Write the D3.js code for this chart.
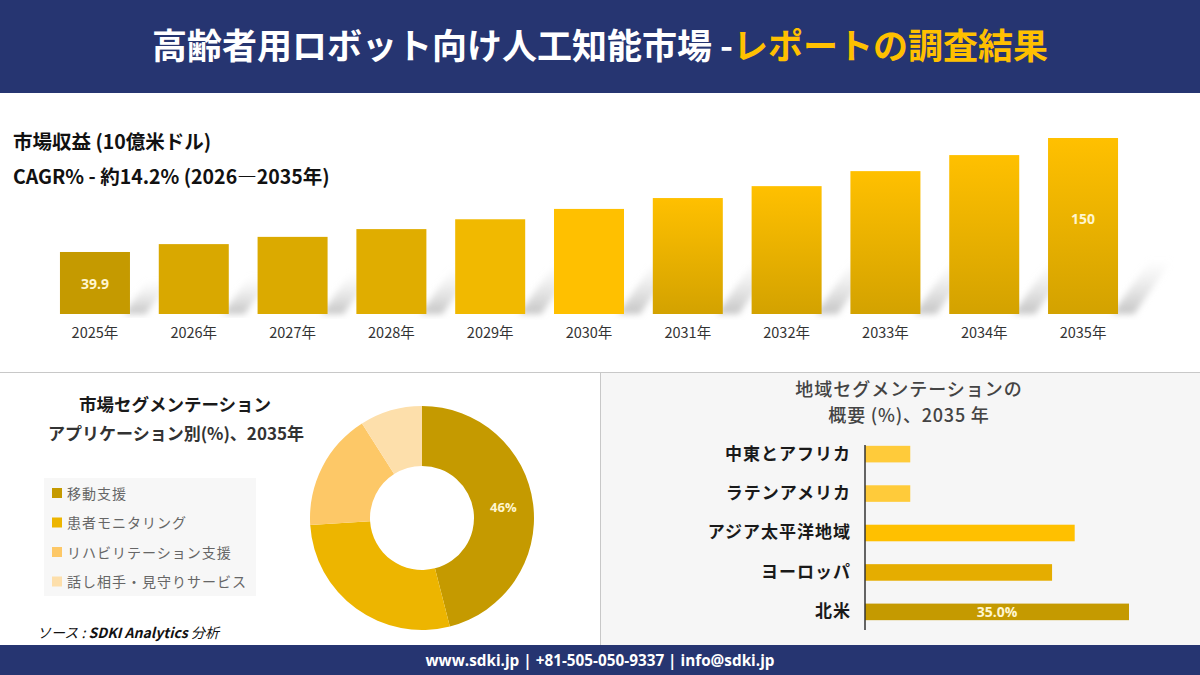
<!DOCTYPE html>
<html>
<head>
<meta charset="utf-8">
<script src="https://cdn.jsdelivr.net/npm/d3@7"></script>
<style>
  html, body { margin: 0; padding: 0; background: #fff; }
  svg { display: block; font-family: "Noto Sans CJK JP", "Noto Sans", sans-serif; }
</style>
</head>
<body>
<div id="chart"></div>
<script>
(function(){

    var width = 1200;
    var height = 675;

    // market revenue (billion USD)
    var years = ["2025年", "2026年", "2027年", "2028年", "2029年", "2030年", "2031年", "2032年", "2033年", "2034年", "2035年"];
    var revenue = [39.9, 47.5, 54.5, 62.0, 71.5, 81.5, 92.0, 103.5, 118.0, 133.5, 150];
    var barColors = ["#C59A00", "#D9A800", "#DBAA00", "#E0AD00", "#F1B900", "#FFC000", "grad", "grad", "grad", "grad", "grad"];
    var shownValues = {0: "39.9", 10: "150"};

    // application segmentation, 2035
    var apps = ["移動支援", "患者モニタリング", "リハビリテーション支援", "話し相手・見守りサービス"];
    var appShare = [46, 28, 17, 9];
    var appColors = ["#C59A00", "#EDB500", "#FDC867", "#FDDFAB"];

    // regional segmentation, 2035
    var regions = ["中東とアフリカ", "ラテンアメリカ", "アジア太平洋地域", "ヨーロッパ", "北米"];
    var regionShare = [6, 6, 27.8, 24.8, 35.0];
    var regionColors = ["#FFCB3A", "#FFCB3A", "#FFC000", "#E5AD00", "#C59A00"];

    var svg = d3.select("#chart")
        .append("svg")
            .attr("width", width)
            .attr("height", height);

    var defs = svg.append("defs");

    var g1 = defs.append("linearGradient")
        .attr("id", "barGrad")
        .attr("x1", 0).attr("y1", 0).attr("x2", 0).attr("y2", 1);
    g1.append("stop").attr("offset", "0%").attr("stop-color", "#FFC000");
    g1.append("stop").attr("offset", "100%").attr("stop-color", "#D3A200");

    var g2 = defs.append("linearGradient")
        .attr("id", "shadowGrad")
        .attr("x1", 0).attr("y1", 1).attr("x2", 0).attr("y2", 0);
    g2.append("stop").attr("offset", "0%").attr("stop-color", "#bdbdbd").attr("stop-opacity", 0.9);
    g2.append("stop").attr("offset", "100%").attr("stop-color", "#e0e0e0").attr("stop-opacity", 0);

    defs.append("filter")
        .attr("id", "blur")
        .append("feGaussianBlur")
        .attr("stdDeviation", 3);

    // backgrounds
    svg.append("rect")
        .attr("x", 0).attr("y", 0)
        .attr("width", width).attr("height", 93)
        .attr("fill", "#263571");

    svg.append("rect")
        .attr("x", 601).attr("y", 373)
        .attr("width", 599).attr("height", 272)
        .attr("fill", "#F6F6F6");

    svg.append("line")
        .attr("x1", 0).attr("x2", width)
        .attr("y1", 372.5).attr("y2", 372.5)
        .attr("stroke", "#c8c8c8");

    svg.append("line")
        .attr("x1", 600.5).attr("x2", 600.5)
        .attr("y1", 373).attr("y2", 645)
        .attr("stroke", "#c8c8c8");

    svg.append("rect")
        .attr("x", 0).attr("y", 645)
        .attr("width", width).attr("height", 30)
        .attr("fill", "#263571");

    // header
    var title = svg.append("text")
        .attr("x", 600)
        .attr("y", 59)
        .attr("text-anchor", "middle")
        .attr("xml:space", "preserve")
        .style("font-size", "35px")
        .style("font-weight", "bold");
    title.append("tspan").attr("fill", "#ffffff").text("高齢者用ロボット向け人工知能市場 -");
    title.append("tspan").attr("fill", "#FFC000").text("レポートの調査結果");

    svg.append("text")
        .attr("x", 600)
        .attr("y", 666)
        .attr("text-anchor", "middle")
        .attr("fill", "#ffffff")
        .style("font-size", "15.3px")
        .style("font-weight", "bold")
        .style("font-family", "'Open Sans', sans-serif")
        .text("www.sdki.jp | +81-505-050-9337 | info@sdki.jp");

    // revenue headings
    svg.append("text")
        .attr("x", 13).attr("y", 149)
        .attr("fill", "#111")
        .style("font-size", "19.5px")
        .style("font-weight", "bold")
        .text("市場収益 (10億米ドル)");

    svg.append("text")
        .attr("x", 13).attr("y", 184)
        .attr("fill", "#111")
        .style("font-size", "19.5px")
        .style("font-weight", "bold")
        .text("CAGR% - 約14.2% (2026―2035年)");

    // revenue bars
    var x = d3.scaleBand()
        .domain(years)
        .range([40.2, 1137.8])
        .paddingInner(0.2915)
        .paddingOuter(0.2);

    var y = d3.scaleLinear()
        .domain([-20, 150])
        .range([314, 138]);

    var bars = svg.append("g").attr("class", "bars");

    bars.selectAll("path.shadow")
        .data(revenue)
        .enter()
        .append("path")
        .attr("class", "shadow")
        .attr("filter", "url(#blur)")
        .attr("fill", "url(#shadowGrad)")
        .attr("d", function(d, i){
            var x0 = x(years[i]) + x.bandwidth() - 6;
            var b = y(-20);
            var h = Math.min(55, (b - y(d)) * 0.55);
            return "M" + x0 + "," + b +
                   "L" + (x0 + 22) + "," + b +
                   "L" + (x0 + 22 + h * 0.7) + "," + (b - h) +
                   "L" + (x0 + h * 0.7) + "," + (b - h) + "Z";
        });

    bars.selectAll("rect.bar")
        .data(revenue)
        .enter()
        .append("rect")
        .attr("class", "bar")
        .attr("x", function(d, i){ return x(years[i]); })
        .attr("y", function(d){ return y(d); })
        .attr("width", x.bandwidth())
        .attr("height", function(d){ return y(-20) - y(d); })
        .attr("fill", function(d, i){ return barColors[i] === "grad" ? "url(#barGrad)" : barColors[i]; });

    bars.selectAll("text.val")
        .data(revenue.map(function(d, i){ return {v: d, i: i}; }).filter(function(d){ return shownValues[d.i]; }))
        .enter()
        .append("text")
        .attr("class", "val")
        .attr("x", function(d){ return x(years[d.i]) + x.bandwidth() / 2; })
        .attr("y", function(d){ return d.i === 0 ? 289 : 224; })
        .attr("text-anchor", "middle")
        .attr("fill", "#FFF6D0")
        .style("font-size", "14px")
        .style("font-weight", "bold")
        .style("font-family", "'Open Sans', sans-serif")
        .text(function(d){ return shownValues[d.i]; });

    var xAxis = svg.append("g")
        .attr("transform", "translate(0," + 314 + ")")
        .call(d3.axisBottom(x).tickSize(0).tickPadding(14));
    xAxis.select(".domain").remove();
    xAxis.selectAll("text")
        .attr("fill", "#333")
        .style("font-size", "14.5px")
        .style("font-family", "'Noto Sans CJK JP', sans-serif");

    // application donut
    svg.append("text")
        .attr("x", 175).attr("y", 411)
        .attr("text-anchor", "middle")
        .attr("fill", "#1a1a1a")
        .style("font-size", "17.5px")
        .style("font-weight", "bold")
        .text("市場セグメンテーション");

    svg.append("text")
        .attr("x", 176).attr("y", 440)
        .attr("text-anchor", "middle")
        .attr("fill", "#333")
        .style("font-size", "17px")
        .style("font-weight", "bold")
        .text("アプリケーション別(%)、2035年");

    svg.append("rect")
        .attr("x", 44).attr("y", 478)
        .attr("width", 212).attr("height", 118)
        .attr("fill", "#F7F7F7");

    var legend = svg.append("g").attr("class", "legend");
    var leg = legend.selectAll("g")
        .data(apps)
        .enter()
        .append("g")
        .attr("transform", function(d, i){ return "translate(52," + (493 + i * 29.5) + ")"; });
    leg.append("rect")
        .attr("x", 0).attr("y", -5)
        .attr("width", 10).attr("height", 10)
        .attr("fill", function(d, i){ return appColors[i]; });
    leg.append("text")
        .attr("x", 15).attr("y", 5.5)
        .attr("fill", "#666")
        .style("font-size", "14px")
        .style("letter-spacing", "1px")
        .text(function(d){ return d; });

    var pie = d3.pie()
        .sort(null)
        .value(function(d){ return d; });

    var arc = d3.arc()
        .innerRadius(52)
        .outerRadius(112);

    var donut = svg.append("g")
        .attr("transform", "translate(422,518)");

    donut.selectAll("path")
        .data(pie(appShare))
        .enter()
        .append("path")
        .attr("d", arc)
        .attr("fill", function(d, i){ return appColors[i]; });

    donut.selectAll("text")
        .data(pie(appShare).slice(0, 1))
        .enter()
        .append("text")
        .attr("transform", function(d){
            var c = d3.arc().innerRadius(82).outerRadius(82).centroid(d);
            return "translate(" + c + ")";
        })
        .attr("dy", "0.35em")
        .attr("text-anchor", "middle")
        .attr("fill", "#FFF6D0")
        .style("font-size", "13px")
        .style("font-weight", "bold")
        .style("font-family", "'Open Sans', sans-serif")
        .text(function(d){ return d.data + "%"; });

    var src = svg.append("text")
        .attr("x", 37).attr("y", 638)
        .attr("fill", "#111")
        .style("font-size", "14px")
        .style("font-style", "italic");
    src.append("tspan").text("ソース : ");
    src.append("tspan").style("font-weight", "bold").text("SDKI Analytics ");
    src.append("tspan").text("分析");

    // regional bars
    svg.append("text")
        .attr("x", 909).attr("y", 396)
        .attr("text-anchor", "middle")
        .attr("fill", "#444")
        .style("font-size", "18px")
        .style("letter-spacing", "1px")
        .style("font-weight", "500")
        .text("地域セグメンテーションの");

    svg.append("text")
        .attr("x", 909).attr("y", 422)
        .attr("text-anchor", "middle")
        .attr("fill", "#444")
        .style("font-size", "18px")
        .style("letter-spacing", "0.8px")
        .style("font-weight", "500")
        .text("概要 (%)、2035 年");

    var ry = d3.scaleBand()
        .domain(regions)
        .range([434, 632])
        .paddingInner(0.58)
        .paddingOuter(0.3);

    var rx = d3.scaleLinear()
        .domain([0, 35])
        .range([865, 1129]);

    svg.append("g").selectAll("rect")
        .data(regionShare)
        .enter()
        .append("rect")
        .attr("x", rx(0))
        .attr("y", function(d, i){ return ry(regions[i]); })
        .attr("width", function(d){ return rx(d) - rx(0); })
        .attr("height", ry.bandwidth())
        .attr("fill", function(d, i){ return regionColors[i]; });

    var yAxis = svg.append("g")
        .attr("transform", "translate(" + rx(0) + ",0)")
        .call(d3.axisLeft(ry).tickSize(0).tickPadding(14));
    yAxis.select(".domain")
        .attr("stroke", "#333")
        .attr("stroke-width", 1.5)
        .attr("d", "M0,445V630");
    yAxis.selectAll("text")
        .attr("fill", "#1a1a1a")
        .style("font-size", "17px")
        .style("letter-spacing", "1px")
        .style("font-weight", "bold")
        .style("font-family", "'Noto Sans CJK JP', sans-serif");

    svg.append("text")
        .attr("x", (rx(0) + rx(regionShare[4])) / 2)
        .attr("y", ry(regions[4]) + ry.bandwidth() / 2)
        .attr("dy", "0.36em")
        .attr("text-anchor", "middle")
        .attr("fill", "#FFF6D0")
        .style("font-size", "14px")
        .style("font-weight", "bold")
        .style("font-family", "'Open Sans', sans-serif")
        .text(regionShare[4].toFixed(1) + "%");

})();
</script>
</body>
</html>
